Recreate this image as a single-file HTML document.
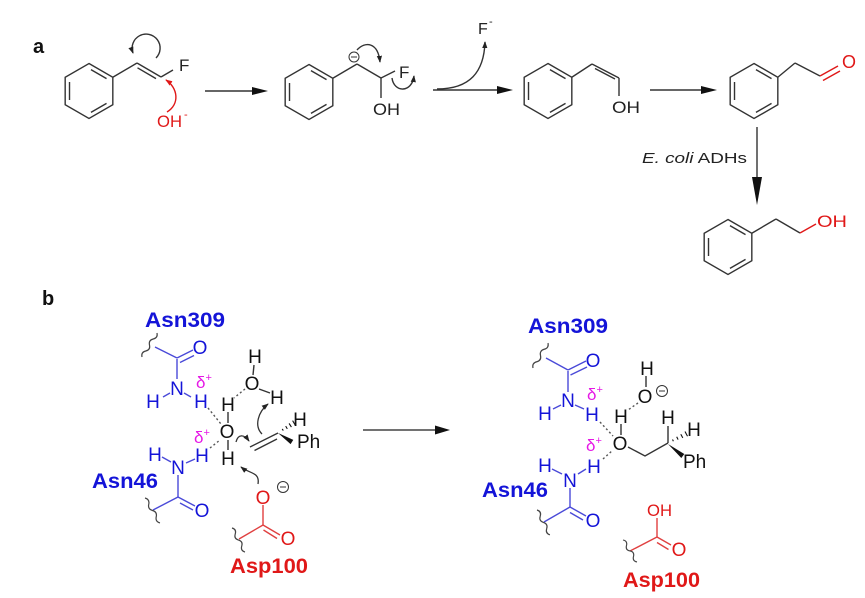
<!DOCTYPE html>
<html><head><meta charset="utf-8"><style>
html,body{margin:0;padding:0;background:#fff;}
svg{display:block;}
text{font-family:"Liberation Sans",Arial,sans-serif;}
</style></head><body>
<svg width="865" height="598" viewBox="0 0 865 598" xmlns="http://www.w3.org/2000/svg">
<defs>
<marker id="ah" viewBox="0 0 8 6" refX="7" refY="3" markerWidth="7" markerHeight="5.5" markerUnits="userSpaceOnUse" orient="auto"><path d="M0,0 L8,3 L0,6 z" fill="#222"/></marker>
<marker id="ahr" viewBox="0 0 8 6" refX="7" refY="3" markerWidth="7" markerHeight="5.5" markerUnits="userSpaceOnUse" orient="auto"><path d="M0,0 L8,3 L0,6 z" fill="#e01818"/></marker>
<g id="bz" fill="none" stroke="#333" stroke-width="1.4">
<polygon points="0,-27.5 23.82,-13.75 23.82,13.75 0,27.5 -23.82,13.75 -23.82,-13.75"/>
<line x1="1.95" y1="-21.38" x2="17.54" y2="-12.38"/>
<line x1="17.54" y1="12.38" x2="1.95" y2="21.38"/>
<line x1="-19.49" y1="9" x2="-19.49" y2="-9"/>
</g>
<path id="wv" d="M0 0 Q3.5 -3.5 7 0 T14 0 T21 0 T28 0" fill="none" stroke="#444" stroke-width="1.2"/>
</defs>

<!-- ===== Panel a ===== -->
<text x="33" y="53" font-weight="bold" font-size="20" fill="#111">a</text>

<!-- M1 -->
<use href="#bz" transform="translate(89,91)"/>
<g stroke="#333" stroke-width="1.4" fill="none">
<line x1="112.8" y1="77.25" x2="137" y2="63"/>
<line x1="137" y1="63" x2="161" y2="77"/>
<line x1="137.5" y1="67.8" x2="156" y2="78.6"/>
<line x1="161" y1="77" x2="173" y2="70"/>
<path d="M156 58 A14 14 0 1 0 133 53" stroke="#333" marker-end="url(#ah)"/>
</g>
<text x="179" y="71" font-size="17" fill="#222">F</text>
<path d="M167 112 C180 104, 178 88, 166 80" stroke="#e01818" stroke-width="1.4" fill="none" marker-end="url(#ahr)"/>
<text x="157" y="127" font-size="17" fill="#e01818" textLength="25" lengthAdjust="spacingAndGlyphs">OH</text>
<text x="184" y="118" font-size="11" fill="#e01818">-</text>

<!-- arrow 1 -->
<line x1="205" y1="91" x2="253" y2="91" stroke="#333" stroke-width="1.4"/>
<polygon points="252,87 268,91 252,95" fill="#111"/>

<!-- M2 -->
<use href="#bz" transform="translate(309,92)"/>
<g stroke="#333" stroke-width="1.4" fill="none">
<line x1="332.8" y1="78.25" x2="357" y2="64"/>
<line x1="357" y1="64" x2="381" y2="78"/>
<line x1="381" y1="78" x2="395" y2="71"/>
<line x1="381" y1="78" x2="381" y2="98"/>
<path d="M357 50 C365 41, 378 42, 380 62" marker-end="url(#ah)"/>
<path d="M392 78 C394 93, 412 93, 414 76" marker-end="url(#ah)"/>
<circle cx="354" cy="57" r="5" stroke-width="1"/>
<line x1="351" y1="57" x2="357" y2="57" stroke-width="1"/>
</g>
<text x="399" y="78" font-size="17" fill="#222">F</text>
<text x="373" y="115" font-size="17" fill="#222" textLength="27" lengthAdjust="spacingAndGlyphs">OH</text>

<!-- arrow 2 -->
<line x1="433" y1="90" x2="498" y2="90" stroke="#333" stroke-width="1.4"/>
<polygon points="497,86 513,90 497,94" fill="#111"/>
<path d="M437 89 C470 89, 484 72, 485 42" stroke="#333" stroke-width="1.4" fill="none" marker-end="url(#ah)"/>
<text x="478" y="34" font-size="16" fill="#222">F</text>
<text x="489" y="25" font-size="11" fill="#222">-</text>

<!-- M3 -->
<use href="#bz" transform="translate(548,91)"/>
<g stroke="#333" stroke-width="1.4" fill="none">
<line x1="571.8" y1="77.25" x2="592" y2="64"/>
<line x1="592" y1="64" x2="619" y2="78"/>
<line x1="595" y1="68.5" x2="615" y2="79"/>
<line x1="619" y1="78" x2="619" y2="96"/>
</g>
<text x="612" y="113" font-size="17" fill="#222" textLength="28" lengthAdjust="spacingAndGlyphs">OH</text>

<!-- arrow 3 -->
<line x1="650" y1="90" x2="702" y2="90" stroke="#333" stroke-width="1.4"/>
<polygon points="701,86 717,90 701,94" fill="#111"/>

<!-- M4 -->
<use href="#bz" transform="translate(754,91)"/>
<g stroke="#333" stroke-width="1.4" fill="none">
<line x1="777.8" y1="77.25" x2="795" y2="63"/>
<line x1="795" y1="63" x2="820" y2="76"/>
</g>
<g stroke="#e01818" stroke-width="1.4">
<line x1="820" y1="76" x2="838" y2="66"/>
<line x1="823" y1="80.5" x2="840" y2="71"/>
</g>
<text x="849" y="68" font-size="18" fill="#e01818" text-anchor="middle">O</text>

<!-- vertical arrow -->
<line x1="757" y1="127" x2="757" y2="179" stroke="#333" stroke-width="1.4"/>
<polygon points="752,177 757,205 762,177" fill="#111"/>
<text x="642" y="163" font-size="15" fill="#222" textLength="105" lengthAdjust="spacingAndGlyphs"><tspan font-style="italic">E. coli</tspan> ADHs</text>

<!-- M5 -->
<use href="#bz" transform="translate(728,247)"/>
<g stroke="#333" stroke-width="1.4" fill="none">
<line x1="751.8" y1="233.25" x2="776" y2="219"/>
<line x1="776" y1="219" x2="800" y2="233"/>
</g>
<line x1="800" y1="233" x2="816" y2="224" stroke="#e01818" stroke-width="1.4"/>
<text x="817" y="227" font-size="17" fill="#e01818" textLength="30" lengthAdjust="spacingAndGlyphs">OH</text>

<!-- ===== Panel b ===== -->
<text x="42" y="305" font-weight="bold" font-size="20" fill="#111">b</text>

<!-- LEFT -->
<text x="145" y="327" font-weight="bold" font-size="21" fill="#1414d8" textLength="80" lengthAdjust="spacingAndGlyphs">Asn309</text>
<use href="#wv" transform="translate(142,357) rotate(-58) scale(1.01,1)"/>
<g stroke="#4a4ad8" stroke-width="1.4" fill="none">
<line x1="155" y1="347" x2="177" y2="358"/>
<line x1="177" y1="358" x2="193" y2="350"/>
<line x1="180" y1="362.5" x2="194" y2="355.5"/>
<line x1="177" y1="359" x2="177" y2="379"/>
<line x1="170" y1="393" x2="163" y2="397"/>
<line x1="184" y1="393" x2="191" y2="397"/>
<line x1="162" y1="457" x2="171" y2="462"/>
<line x1="195" y1="459" x2="186" y2="463"/>
<line x1="178" y1="475" x2="178" y2="497"/>
<line x1="178" y1="497" x2="195" y2="506"/>
<line x1="180" y1="503" x2="193" y2="510"/>
<line x1="178" y1="497" x2="153" y2="510"/>
</g>
<g fill="#1414d8" font-size="19" text-anchor="middle">
<text x="200" y="354">O</text>
<text x="177" y="395">N</text>
<text x="153" y="408">H</text>
<text x="201" y="408">H</text>
<text x="202" y="462">H</text>
<text x="155" y="461">H</text>
<text x="178" y="474">N</text>
<text x="202" y="517">O</text>
</g>
<text x="92" y="488" font-weight="bold" font-size="21" fill="#1414d8" textLength="66" lengthAdjust="spacingAndGlyphs">Asn46</text>
<use href="#wv" transform="translate(145,498) rotate(59) scale(1.04,1)"/>

<g fill="#e619e6" font-size="17" text-anchor="middle">
<text x="204" y="388">δ<tspan font-size="11" dy="-7">+</tspan></text>
<text x="202" y="443">δ<tspan font-size="11" dy="-7">+</tspan></text>
</g>

<!-- waters & alkene -->
<g fill="#111" font-size="19" text-anchor="middle">
<text x="255" y="363">H</text>
<text x="252" y="390">O</text>
<text x="277" y="404">H</text>
<text x="228" y="411">H</text>
<text x="227" y="438">O</text>
<text x="228" y="465">H</text>
<text x="300" y="426">H</text>
</g>
<text x="297" y="448" font-size="19" fill="#111">Ph</text>
<g stroke="#333" stroke-width="1.4" fill="none">
<line x1="254" y1="365" x2="253" y2="375"/>
<line x1="259" y1="389" x2="270" y2="393"/>
<line x1="228" y1="412" x2="228" y2="423"/>
<line x1="228" y1="440" x2="228" y2="450"/>
<line x1="250" y1="447" x2="278" y2="433"/>
<line x1="254.5" y1="450.5" x2="277" y2="439"/>
</g>
<g stroke="#555" stroke-width="1.4" stroke-dasharray="2 2.5" fill="none">
<line x1="208" y1="408" x2="221" y2="424"/>
<line x1="245" y1="389" x2="234" y2="398"/>
<line x1="210" y1="448" x2="220" y2="440"/>
</g>
<polygon points="278,433 293.3,439.9 290.6,444.1" fill="#111"/>
<g stroke="#111" stroke-width="1.1">
<line x1="282.2" y1="428.9" x2="283.3" y2="430.6"/>
<line x1="285.7" y1="426.1" x2="287.3" y2="428.9"/>
<line x1="289.1" y1="423.4" x2="291.4" y2="427.1"/>
<line x1="292.6" y1="420.6" x2="295.4" y2="425.4"/>
</g>
<g stroke="#333" stroke-width="1.3" fill="none">
<path d="M236 442 C238 434, 244 434, 249 441" marker-end="url(#ah)"/>
<path d="M262 434 C254 426, 258 412, 268 404" marker-end="url(#ah)"/>
<path d="M258 484 C260 472, 250 474, 241 467" marker-end="url(#ah)"/>
</g>

<!-- Asp100 left -->
<g stroke="#e04040" stroke-width="1.4" fill="none">
<line x1="263" y1="505" x2="263" y2="525"/>
<line x1="263" y1="525" x2="280" y2="535"/>
<line x1="263.5" y1="530" x2="277" y2="538.5"/>
<line x1="263" y1="525" x2="239" y2="539"/>
</g>
<g fill="#e01818" font-size="19" text-anchor="middle">
<text x="263" y="504">O</text>
<text x="288" y="545">O</text>
</g>
<circle cx="283" cy="487" r="5.5" fill="none" stroke="#333" stroke-width="1"/>
<line x1="280" y1="487" x2="286" y2="487" stroke="#333" stroke-width="1"/>
<use href="#wv" transform="translate(232,528) rotate(61.6) scale(0.975,1)"/>
<text x="230" y="573" font-weight="bold" font-size="21" fill="#e01818" textLength="78" lengthAdjust="spacingAndGlyphs">Asp100</text>

<!-- middle arrow -->
<line x1="363" y1="430" x2="436" y2="430" stroke="#444" stroke-width="1.5"/>
<polygon points="435,425.5 450,430 435,434.5" fill="#111"/>

<!-- RIGHT -->
<text x="528" y="333" font-weight="bold" font-size="21" fill="#1414d8" textLength="80" lengthAdjust="spacingAndGlyphs">Asn309</text>
<use href="#wv" transform="translate(533,368) rotate(-59) scale(1.04,1)"/>
<g stroke="#4a4ad8" stroke-width="1.4" fill="none">
<line x1="546" y1="358" x2="568" y2="370"/>
<line x1="568" y1="370" x2="586" y2="361"/>
<line x1="570.5" y1="375" x2="587" y2="367"/>
<line x1="568" y1="371" x2="568" y2="392"/>
<line x1="561" y1="405" x2="553" y2="409"/>
<line x1="575" y1="405" x2="584" y2="409"/>
<line x1="552" y1="469" x2="562" y2="474"/>
<line x1="586" y1="469" x2="578" y2="474"/>
<line x1="570" y1="488" x2="570" y2="507"/>
<line x1="570" y1="507" x2="586" y2="516"/>
<line x1="570" y1="512.5" x2="583" y2="520"/>
<line x1="570" y1="507" x2="544" y2="522"/>
</g>
<g fill="#1414d8" font-size="19" text-anchor="middle">
<text x="593" y="367">O</text>
<text x="568" y="407">N</text>
<text x="545" y="420">H</text>
<text x="592" y="421">H</text>
<text x="594" y="473">H</text>
<text x="545" y="472">H</text>
<text x="570" y="487">N</text>
<text x="593" y="527">O</text>
</g>
<text x="482" y="497" font-weight="bold" font-size="21" fill="#1414d8" textLength="66" lengthAdjust="spacingAndGlyphs">Asn46</text>
<use href="#wv" transform="translate(537,510) rotate(62.5) scale(1,1)"/>
<g fill="#e619e6" font-size="17" text-anchor="middle">
<text x="595" y="400">δ<tspan font-size="11" dy="-7">+</tspan></text>
<text x="594" y="451">δ<tspan font-size="11" dy="-7">+</tspan></text>
</g>

<g fill="#111" font-size="19" text-anchor="middle">
<text x="647" y="375">H</text>
<text x="645" y="403">O</text>
<text x="621" y="423">H</text>
<text x="620" y="450">O</text>
<text x="668" y="424">H</text>
<text x="694" y="436">H</text>
</g>
<text x="683" y="468" font-size="19" fill="#111">Ph</text>
<circle cx="662" cy="391" r="5.5" fill="none" stroke="#333" stroke-width="1"/>
<line x1="659" y1="391" x2="665" y2="391" stroke="#333" stroke-width="1"/>
<g stroke="#333" stroke-width="1.4" fill="none">
<line x1="646" y1="376" x2="646" y2="387"/>
<line x1="621" y1="424" x2="621" y2="435"/>
<polyline points="628,447 645,456 668,443"/>
<line x1="668" y1="443" x2="668" y2="426"/>
</g>
<g stroke="#555" stroke-width="1.4" stroke-dasharray="2 2.5" fill="none">
<line x1="600" y1="422" x2="613" y2="436"/>
<line x1="638" y1="403" x2="628" y2="410"/>
<line x1="603" y1="459" x2="613" y2="450"/>
</g>
<polygon points="668,444 684.3,454 681.3,458" fill="#111"/>
<g stroke="#111" stroke-width="1.1">
<line x1="672.5" y1="439.5" x2="673.4" y2="441.2"/>
<line x1="676.7" y1="436.8" x2="678.1" y2="439.6"/>
<line x1="680.8" y1="434.2" x2="682.8" y2="437.9"/>
<line x1="685" y1="431.5" x2="687.5" y2="436.3"/>
</g>

<!-- Asp100 right -->
<g stroke="#e04040" stroke-width="1.4" fill="none">
<line x1="657" y1="518" x2="657" y2="537"/>
<line x1="657" y1="537" x2="671" y2="545"/>
<line x1="657" y1="542.5" x2="668.5" y2="549.5"/>
<line x1="657" y1="537" x2="630" y2="551"/>
</g>
<text x="647" y="516" font-size="17" fill="#e01818" textLength="25" lengthAdjust="spacingAndGlyphs">OH</text>
<text x="679" y="556" font-size="19" fill="#e01818" text-anchor="middle">O</text>
<use href="#wv" transform="translate(623,540) rotate(57.5) scale(0.93,1)"/>
<text x="623" y="587" font-weight="bold" font-size="21" fill="#e01818" textLength="77" lengthAdjust="spacingAndGlyphs">Asp100</text>
</svg>
</body></html>
